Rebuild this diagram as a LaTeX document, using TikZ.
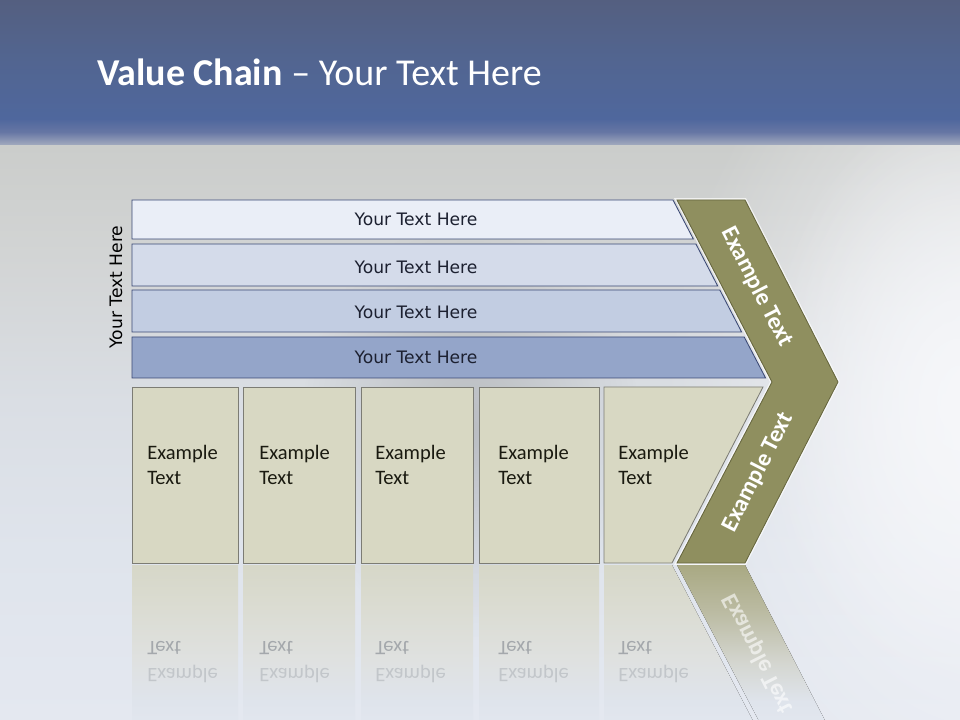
\documentclass[tikz,border=0pt]{standalone}
\usepackage{fontspec}
\setmainfont{Carlito}
\newfontfamily\barfont{DejaVu Sans}
\usepackage{graphicx}
\usetikzlibrary{fadings}

\definecolor{bandA}{HTML}{545F80}
\definecolor{bandB}{HTML}{526590}
\definecolor{bandC}{HTML}{4F679D}
\definecolor{bandD}{HTML}{6676A4}
\definecolor{bandE}{HTML}{A2AABE}
\definecolor{bgA}{HTML}{CBCDCB}
\definecolor{bgB}{HTML}{D2D4D4}
\definecolor{bgC}{HTML}{DADEE4}
\definecolor{bgD}{HTML}{DFE4EC}
\definecolor{bgE}{HTML}{E4E8F0}
\definecolor{barA}{HTML}{EAEEF7}
\definecolor{barB}{HTML}{D4DBEA}
\definecolor{barC}{HTML}{C2CDE2}
\definecolor{barD}{HTML}{94A5C9}
\definecolor{barline}{HTML}{3A4874}
\definecolor{bartext}{HTML}{1C2030}
\definecolor{boxfill}{HTML}{D8D8C3}
\definecolor{boxline}{HTML}{7C7C74}
\definecolor{boxtext}{HTML}{1A1A10}
\definecolor{chev}{HTML}{8F8F5F}
\definecolor{chevline}{HTML}{66663E}
\definecolor{rbA}{HTML}{D6D7C8}
\definecolor{rbB}{HTML}{DADBD0}
\definecolor{rbC}{HTML}{DFE1E0}
\definecolor{rcA}{HTML}{A9A983}
\definecolor{rcB}{HTML}{BCBCA4}
\definecolor{rcC}{HTML}{D4D6D0}
\definecolor{refldark}{HTML}{A4A8AC}
\definecolor{refllight}{HTML}{C2C6CA}
\definecolor{glow}{HTML}{F6F7FA}

\pgfdeclareverticalshading{bandshade}{100bp}{color(0bp)=(bandE); color(25bp)=(bandE);
  color(29.5bp)=(bandD); color(34bp)=(bandC); color(55bp)=(bandB); color(75bp)=(bandA); color(100bp)=(bandA)}
\pgfdeclareverticalshading{bgshade}{100bp}{color(0bp)=(bgE); color(25bp)=(bgE);
  color(39.7bp)=(bgD); color(52.6bp)=(bgC); color(65.5bp)=(bgB); color(75bp)=(bgA); color(100bp)=(bgA)}
\pgfdeclareverticalshading{reflbox}{100bp}{color(0bp)=(bgE); color(25bp)=(bgE);
  color(36bp)=(bgD); color(48bp)=(rbC); color(65bp)=(rbB); color(75bp)=(rbA); color(100bp)=(rbA)}
\pgfdeclareverticalshading{reflchev}{100bp}{color(0bp)=(bgE); color(25bp)=(bgE);
  color(36bp)=(bgD); color(47bp)=(rcC); color(61bp)=(rcB); color(75bp)=(rcA); color(100bp)=(rcA)}
\tikzfading[name=softglow,inner color=transparent!0,outer color=transparent!100]

\newcommand{\mirror}[1]{\scalebox{1}[-1]{#1}}

\begin{document}
\begin{tikzpicture}[x=0.025cm,y=-0.025cm,
  bar/.style={draw=barline,line width=0.6pt},
  bartxt/.style={font=\barfont\fontsize{12.2pt}{14pt}\selectfont,text=bartext,inner sep=0pt},
  box/.style={fill=boxfill,draw=boxline,line width=0.6pt},
  boxtxt/.style={font=\fontsize{14.6pt}{18.4pt}\selectfont,align=left,anchor=west,inner sep=0pt,text=boxtext},
  chevtxt/.style={font=\bfseries\fontsize{17pt}{20pt}\selectfont,text=white,inner sep=0pt},
  refltop/.style={font=\fontsize{14.6pt}{18.4pt}\selectfont,anchor=west,inner sep=0pt,text=refldark},
  reflbot/.style={refltop,text=refllight}
]
  \useasboundingbox (0,0) rectangle (960,720);

  % background
  \fill[shading=bgshade] (0,145) rectangle (960,720);
  \fill[gray!70!black,opacity=0.25,path fading=softglow] (470,430) ellipse (170 and 210);
  \fill[glow,path fading=softglow] (1000,420) ellipse (340 and 460);
  \fill[glow,opacity=0.9,path fading=softglow] (960,400) ellipse (200 and 300);
  \fill[shading=bandshade] (0,0) rectangle (960,145);

  % title
  \node[anchor=base west,inner sep=0pt,text=white,font=\fontsize{27pt}{30pt}\selectfont] (title) at (97,86)
    {\textbf{Value Chain} -- Your Text Here};

  % side label
  \node[bartxt,text=black,rotate=90] (side) at (116,287) {Your Text Here};

  % bars
  \fill[barA,bar] (132,200) -- (673,200) -- (693.3,239) -- (132,239) -- cycle;
  \fill[barB,bar] (132,244) -- (695.9,244) -- (717.7,286) -- (132,286) -- cycle;
  \fill[barC,bar] (132,290) -- (719.8,290) -- (741.6,332) -- (132,332) -- cycle;
  \fill[barD,bar] (132,337) -- (744.2,337) -- (765.6,378) -- (132,378) -- cycle;
  \node[bartxt] (t1) at (416,219) {Your Text Here};
  \node[bartxt] (t2) at (416,267) {Your Text Here};
  \node[bartxt] (t3) at (416,312) {Your Text Here};
  \node[bartxt] (t4) at (416,357) {Your Text Here};

  % reflections
  \fill[shading=reflbox] (132,565) rectangle (238,740);
  \fill[shading=reflbox] (243,565) rectangle (355,740);
  \fill[shading=reflbox] (361,565) rectangle (473,740);
  \fill[shading=reflbox] (479,565) rectangle (599,740);
  \fill[shading=reflbox] (604,565) -- (672,565) -- (763,740) -- (604,740) -- cycle;
  \fill[shading=reflchev] (677,565) -- (745,565) -- (835,740) -- (769,740) -- cycle;
  \node[refltop] (r1a) at (147,648) {\mirror{Text}};
  \node[refltop] (r2a) at (259,648) {\mirror{Text}};
  \node[refltop] (r3a) at (375,648) {\mirror{Text}};
  \node[refltop] (r4a) at (498,648) {\mirror{Text}};
  \node[refltop] (r5a) at (618,648) {\mirror{Text}};
  \node[reflbot] (r1b) at (147,674) {\mirror{Example}};
  \node[reflbot] (r2b) at (259,674) {\mirror{Example}};
  \node[reflbot] (r3b) at (375,674) {\mirror{Example}};
  \node[reflbot] (r4b) at (498,674) {\mirror{Example}};
  \node[reflbot] (r5b) at (618,674) {\mirror{Example}};
  \node[chevtxt,text=white,opacity=0.6,rotate=-63] (rc) at (758,654) {\mirror{Example Text}};

  % boxes
  \draw[box] (132,387) rectangle (238,563);
  \draw[box] (243,387) rectangle (355,563);
  \draw[box] (361,387) rectangle (473,563);
  \draw[box] (479,387) rectangle (599,563);
  \draw[box] (604,387) -- (763,387) -- (672,563) -- (604,563) -- cycle;
  \node[boxtxt] (b1) at (147,465) {Example\\Text};
  \node[boxtxt] (b2) at (259,465) {Example\\Text};
  \node[boxtxt] (b3) at (375,465) {Example\\Text};
  \node[boxtxt] (b4) at (498,465) {Example\\Text};
  \node[boxtxt] (b5) at (618,465) {Example\\Text};

  % chevron
  \draw[white,opacity=0.7,line width=2.5pt,line join=miter]
    (677,200) -- (745,200) -- (838,382) -- (745,563) -- (677,563) -- (772,382) -- cycle;
  \draw[fill=chev,draw=chevline,line width=0.6pt]
    (677,200) -- (745,200) -- (838,382) -- (745,563) -- (677,563) -- (772,382) -- cycle;
  \node[chevtxt,rotate=-63] (c1) at (757,287) {Example Text};
  \node[chevtxt,rotate=63] (c2) at (758,472) {Example Text};
\end{tikzpicture}
\end{document}
